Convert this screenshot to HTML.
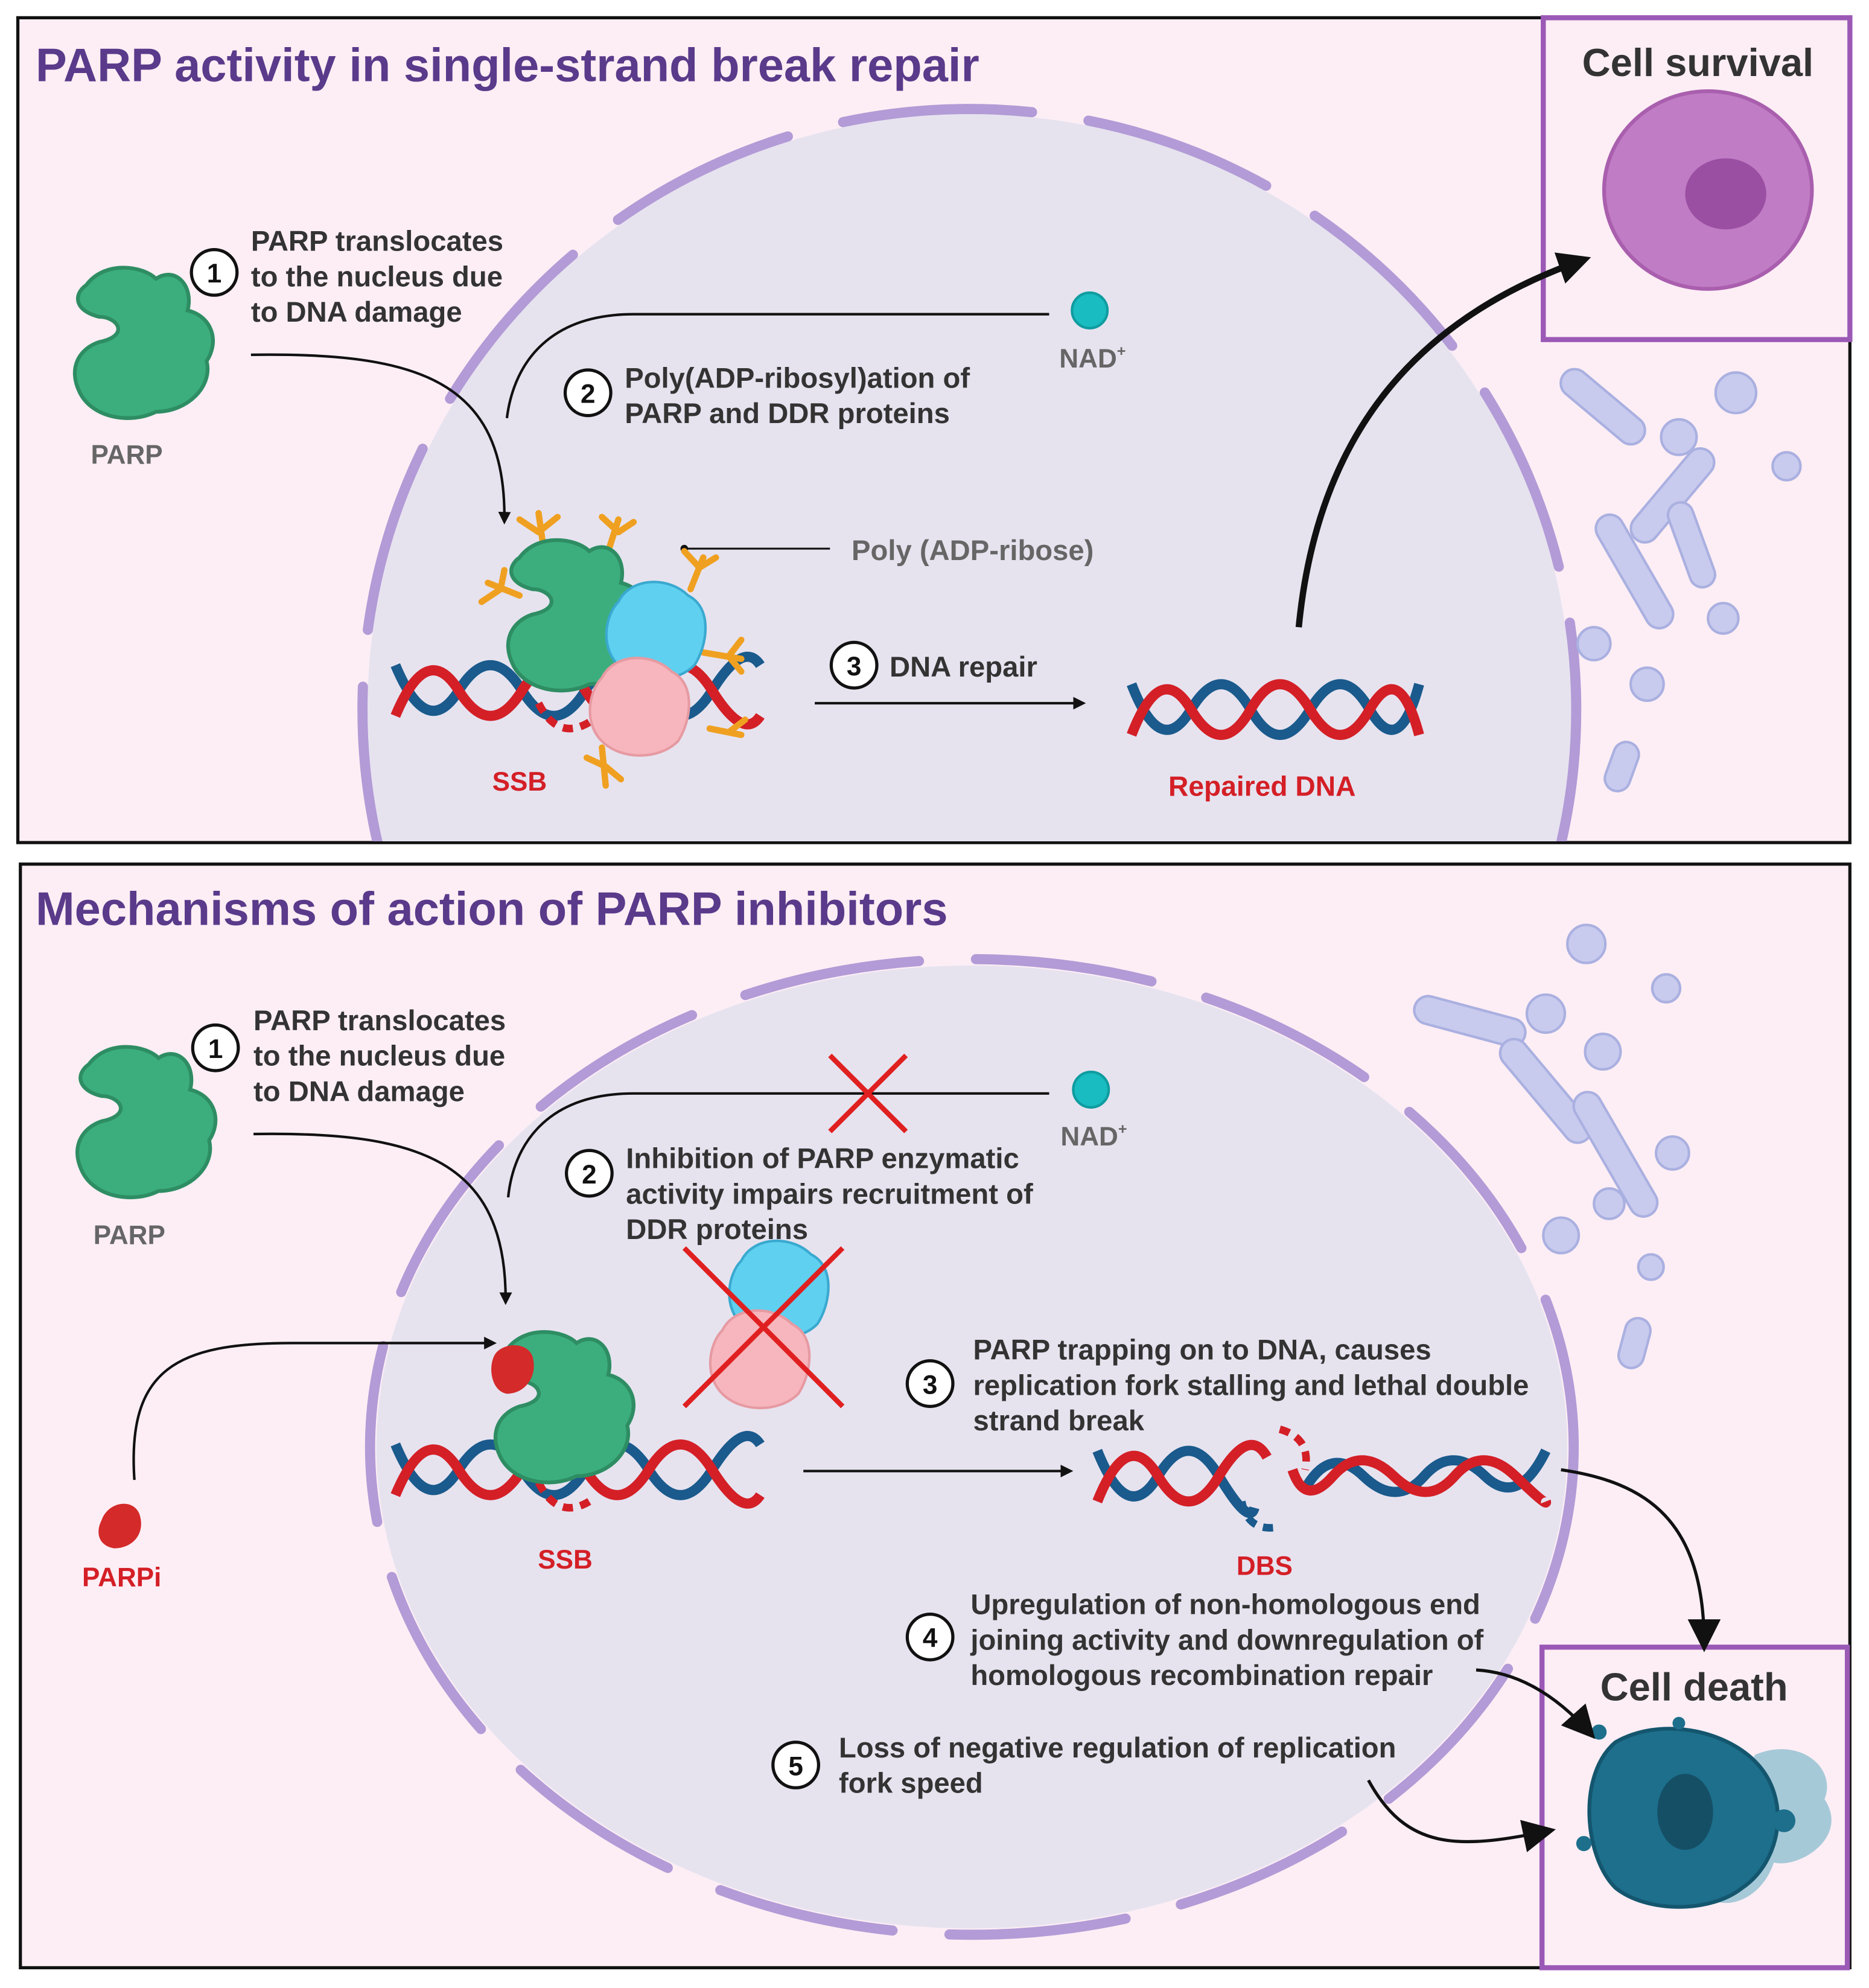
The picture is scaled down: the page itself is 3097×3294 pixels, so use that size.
<!DOCTYPE html>
<html><head><meta charset="utf-8"><style>
html,body{margin:0;padding:0;background:#fff}
svg{display:block}
text{font-family:"Liberation Sans",sans-serif;font-weight:bold}
</style></head><body>
<svg width="3097" height="3294" viewBox="0 0 1475 1569" xmlns="http://www.w3.org/2000/svg">
<defs>
<marker id="ah" markerWidth="10" markerHeight="10" refX="8" refY="5" orient="auto" markerUnits="userSpaceOnUse"><path d="M0,0 L10,5 L0,10 z" fill="#111"/></marker>
<marker id="ahb" markerWidth="26" markerHeight="26" refX="20" refY="13" orient="auto" markerUnits="userSpaceOnUse"><path d="M0,0 L26,13 L0,26 z" fill="#111"/></marker>
<clipPath id="c1"><rect x="15" y="15" width="1444" height="649"/></clipPath>
<clipPath id="c2"><rect x="17" y="683" width="1442" height="869"/></clipPath>
<g id="parp"><path d="M-45,-45 C-30,-65 0,-60 10,-50 C25,-60 40,-45 35,-25 C55,-20 60,0 50,15 C55,35 35,55 10,55 C-10,65 -40,60 -50,40 C-60,20 -50,5 -35,0 C-10,-5 -20,-20 -35,-20 C-55,-25 -55,-38 -45,-45 z" fill="#3cae7e" stroke="#2e8d63" stroke-width="3"/></g>
<g id="cyan"><path d="M-30,-25 C-20,-45 10,-45 25,-30 C45,-20 40,10 30,25 C15,40 -15,40 -30,25 C-45,10 -40,-15 -30,-25z" fill="#5fd0ef" stroke="#3aa9d0" stroke-width="2"/></g>
<g id="pink"><path d="M-30,-25 C-20,-45 10,-45 25,-30 C45,-20 40,10 30,25 C15,40 -15,40 -30,25 C-45,10 -40,-15 -30,-25z" fill="#f7b6bd" stroke="#e69aa2" stroke-width="2"/></g>
</defs>

<!-- TOP PANEL -->
<rect x="14" y="14" width="1446" height="651" fill="#fdeef5" stroke="#111" stroke-width="2.5"/>
<g clip-path="url(#c1)">
<ellipse cx="765" cy="560" rx="475" ry="470" fill="#e6e3ef"/>
<ellipse cx="765" cy="560" rx="479" ry="474" fill="none" stroke="#b29bd6" stroke-width="8" stroke-linecap="round" stroke-dasharray="150 45"/>
</g>
<text x="28" y="64" font-size="37" fill="#5a3a8a">PARP activity in single-strand break repair</text>
<rect x="1218" y="14" width="242" height="254" fill="#fdeef5" stroke="#9b59b6" stroke-width="4"/>
<text x="1340" y="60" font-size="31" fill="#333" text-anchor="middle">Cell survival</text>
<ellipse cx="1348" cy="150" rx="82" ry="78" fill="#c07cc4" stroke="#a95fae" stroke-width="3"/>
<ellipse cx="1362" cy="153" rx="32" ry="28" fill="#9a4fa3"/>
<g fill="#c8cbee" stroke="#aab0e0" stroke-width="2">
<rect x="1225" y="310" width="80" height="22" rx="11" transform="rotate(40 1265 321)"/>
<circle cx="1370" cy="310" r="16"/><circle cx="1410" cy="368" r="11"/><circle cx="1325" cy="345" r="14"/>
<rect x="1275" y="380" width="90" height="22" rx="11" transform="rotate(-50 1320 391)"/>
<rect x="1240" y="440" width="100" height="22" rx="11" transform="rotate(60 1290 451)"/>
<circle cx="1258" cy="508" r="13"/><circle cx="1360" cy="488" r="12"/><circle cx="1300" cy="540" r="13"/>
<rect x="1260" y="595" width="40" height="20" rx="10" transform="rotate(-70 1280 605)"/>
<rect x="1300" y="420" width="70" height="20" rx="10" transform="rotate(70 1335 430)"/>
</g>

<use href="#parp" x="113" y="270"/>
<text x="100" y="366" font-size="21" fill="#666" text-anchor="middle">PARP</text>
<circle cx="169" cy="215" r="18" fill="#fff" stroke="#111" stroke-width="2.5"/><text x="169" y="223" font-size="21" text-anchor="middle" fill="#111">1</text>
<text font-size="22.5" fill="#333"><tspan x="198" y="198">PARP translocates</tspan><tspan x="198" y="226">to the nucleus due</tspan><tspan x="198" y="254">to DNA damage</tspan></text>
<path d="M198,280 C330,278 400,300 398,412" fill="none" stroke="#111" stroke-width="2" marker-end="url(#ah)"/>
<path d="M828,248 L500,248 C430,248 405,290 400,330" fill="none" stroke="#111" stroke-width="2"/>
<circle cx="860" cy="245" r="14" fill="#19bcc0" stroke="#0f9ca0" stroke-width="2"/>
<text x="836" y="290" font-size="21" fill="#666">NAD<tspan font-size="12" dy="-9">+</tspan></text>
<circle cx="464" cy="310" r="18" fill="#fff" stroke="#111" stroke-width="2.5"/><text x="464" y="318" font-size="21" text-anchor="middle" fill="#111">2</text>
<text font-size="22.5" fill="#333"><tspan x="493" y="306">Poly(ADP-ribosyl)ation of</tspan><tspan x="493" y="334">PARP and DDR proteins</tspan></text>
<line x1="540" y1="433" x2="655" y2="433" stroke="#111" stroke-width="1.5"/><circle cx="540" cy="433" r="3" fill="#111"/>
<text x="672" y="442" font-size="22.5" fill="#666">Poly (ADP-ribose)</text>
<path d="M312,525 Q337,585 362,545 T412,545 T462,545 T512,545 T562,545 T600,525" fill="none" stroke="#1a5a8c" stroke-width="8"/>
<path d="M312,565 Q337,505 362,545 T412,545 T462,545 T512,545 T562,545 T600,565" fill="none" stroke="#d41f26" stroke-width="8"/>
<path d="M425,555 Q440,585 465,570" fill="none" stroke="#d41f26" stroke-width="6" stroke-dasharray="8 6"/>
<g stroke="#f0a020" stroke-width="5" stroke-linecap="round" fill="none">
<path d="M430,440 L425,405 M425,420 L410,410 M425,420 L440,408"/>
<path d="M480,435 L488,410 M488,420 L475,408 M488,420 L500,412"/>
<path d="M410,470 L385,460 M395,465 L380,475 M395,465 L398,450"/>
<path d="M545,465 L555,440 M552,448 L540,435 M552,448 L565,440"/>
<path d="M555,515 L585,520 M575,518 L585,505 M575,518 L585,530"/>
<path d="M560,575 L585,580 M575,578 L588,568"/>
<path d="M475,590 L478,620 M478,605 L463,598 M478,605 L490,615"/>
</g>
<use href="#parp" x="455" y="485"/>
<use href="#cyan" x="518" y="500"/>
<use href="#pink" x="505" y="560"/>
<text x="410" y="624" font-size="21" fill="#d41f26" text-anchor="middle">SSB</text>
<circle cx="674" cy="525" r="18" fill="#fff" stroke="#111" stroke-width="2.5"/><text x="674" y="533" font-size="21" text-anchor="middle" fill="#111">3</text>
<text x="702" y="534" font-size="22.5" fill="#333">DNA repair</text>
<line x1="643" y1="555" x2="855" y2="555" stroke="#111" stroke-width="2" marker-end="url(#ah)"/>
<path d="M893,540 Q916,600 940,560 T987,560 T1034,560 T1081,560 T1120,540" fill="none" stroke="#1a5a8c" stroke-width="8"/>
<path d="M893,580 Q916,520 940,560 T987,560 T1034,560 T1081,560 T1120,580" fill="none" stroke="#d41f26" stroke-width="8"/>
<text x="996" y="628" font-size="22" fill="#d41f26" text-anchor="middle">Repaired DNA</text>
<path d="M1025,495 C1040,340 1120,250 1250,205" fill="none" stroke="#111" stroke-width="5" marker-end="url(#ahb)"/>

<!-- BOTTOM PANEL -->
<rect x="16" y="682" width="1444" height="871" fill="#fdeef5" stroke="#111" stroke-width="2.5"/>
<g clip-path="url(#c2)">
<ellipse cx="767" cy="1142" rx="470" ry="380" fill="#e6e3ef"/>
<ellipse cx="767" cy="1142" rx="475" ry="385" fill="none" stroke="#b29bd6" stroke-width="8" stroke-linecap="round" stroke-dasharray="140 45"/>
</g>
<text x="28" y="730" font-size="37" fill="#5a3a8a">Mechanisms of action of PARP inhibitors</text>
<g fill="#c8cbee" stroke="#aab0e0" stroke-width="2">
<circle cx="1252" cy="745" r="15"/><circle cx="1315" cy="780" r="11"/>
<rect x="1115" y="795" width="90" height="22" rx="11" transform="rotate(15 1160 806)"/>
<circle cx="1220" cy="800" r="15"/><circle cx="1265" cy="830" r="14"/>
<rect x="1170" y="850" width="100" height="22" rx="11" transform="rotate(50 1220 861)"/>
<rect x="1220" y="900" width="110" height="22" rx="11" transform="rotate(60 1275 911)"/>
<circle cx="1320" cy="910" r="13"/><circle cx="1232" cy="975" r="14"/><circle cx="1270" cy="950" r="12"/><circle cx="1303" cy="1000" r="10"/>
<rect x="1270" y="1050" width="40" height="20" rx="10" transform="rotate(-75 1290 1060)"/>
</g>
<use href="#parp" x="115" y="885"/>
<text x="102" y="982" font-size="21" fill="#666" text-anchor="middle">PARP</text>
<circle cx="170" cy="827" r="18" fill="#fff" stroke="#111" stroke-width="2.5"/><text x="170" y="835" font-size="21" text-anchor="middle" fill="#111">1</text>
<text font-size="22.5" fill="#333"><tspan x="200" y="813">PARP translocates</tspan><tspan x="200" y="841">to the nucleus due</tspan><tspan x="200" y="869">to DNA damage</tspan></text>
<path d="M200,895 C330,893 400,915 399,1028" fill="none" stroke="#111" stroke-width="2" marker-end="url(#ah)"/>
<path d="M828,863 L500,863 C430,863 405,905 401,945" fill="none" stroke="#111" stroke-width="2"/>
<path d="M655,833 L715,893 M715,833 L655,893" stroke="#e02020" stroke-width="4"/>
<circle cx="861" cy="860" r="14" fill="#19bcc0" stroke="#0f9ca0" stroke-width="2"/>
<text x="837" y="904" font-size="21" fill="#666">NAD<tspan font-size="12" dy="-9">+</tspan></text>
<circle cx="465" cy="926" r="18" fill="#fff" stroke="#111" stroke-width="2.5"/><text x="465" y="934" font-size="21" text-anchor="middle" fill="#111">2</text>
<text font-size="22.5" fill="#333"><tspan x="494" y="922">Inhibition of PARP enzymatic</tspan><tspan x="494" y="950">activity impairs recruitment of</tspan><tspan x="494" y="978">DDR proteins</tspan></text>
<use href="#cyan" x="615" y="1020"/>
<use href="#pink" x="600" y="1075"/>
<path d="M540,985 L665,1110 M665,985 L540,1110" stroke="#e02020" stroke-width="4"/>
<path d="M312,1140 Q337,1200 362,1160 T412,1160 T462,1160 T512,1160 T562,1160 T600,1140" fill="none" stroke="#1a5a8c" stroke-width="8"/>
<path d="M312,1180 Q337,1120 362,1160 T412,1160 T462,1160 T512,1160 T562,1160 T600,1180" fill="none" stroke="#d41f26" stroke-width="8"/>
<path d="M425,1170 Q440,1200 465,1185" fill="none" stroke="#d41f26" stroke-width="6" stroke-dasharray="8 6"/>
<use href="#parp" x="445" y="1110"/>
<path d="M390,1070 C395,1060 415,1058 420,1070 C425,1085 415,1100 400,1100 C388,1098 385,1080 390,1070z" fill="#d42a2a"/>
<text x="446" y="1238" font-size="21" fill="#d41f26" text-anchor="middle">SSB</text>
<path d="M106,1168 C100,1080 140,1060 230,1060 L390,1060" fill="none" stroke="#111" stroke-width="2" marker-end="url(#ah)"/>
<path d="M80,1200 C85,1185 105,1182 110,1195 C115,1210 105,1222 90,1222 C78,1220 75,1210 80,1200z" fill="#d42a2a"/>
<text x="96" y="1252" font-size="21" fill="#d41f26" text-anchor="middle">PARPi</text>
<circle cx="734" cy="1092" r="18" fill="#fff" stroke="#111" stroke-width="2.5"/><text x="734" y="1100" font-size="21" text-anchor="middle" fill="#111">3</text>
<text font-size="22.5" fill="#333"><tspan x="768" y="1073">PARP trapping on to DNA, causes</tspan><tspan x="768" y="1101">replication fork stalling and lethal double</tspan><tspan x="768" y="1129">strand break</tspan></text>
<line x1="634" y1="1161" x2="845" y2="1161" stroke="#111" stroke-width="2" marker-end="url(#ah)"/>
<path d="M866,1145 Q890,1205 914,1165 T962,1165 T990,1190 M1030,1175 Q1050,1140 1076,1165 T1124,1165 T1172,1165 T1220,1145" fill="none" stroke="#1a5a8c" stroke-width="8"/>
<path d="M866,1185 Q890,1125 914,1165 T962,1165 T1000,1150 M1020,1160 Q1030,1190 1052,1165 T1100,1165 T1148,1165 T1196,1165 T1220,1185" fill="none" stroke="#d41f26" stroke-width="8"/>
<path d="M1010,1128 Q1035,1135 1030,1160" fill="none" stroke="#d41f26" stroke-width="6" stroke-dasharray="8 6"/>
<path d="M980,1185 Q985,1210 1010,1205" fill="none" stroke="#1a5a8c" stroke-width="6" stroke-dasharray="8 6"/>
<text x="998" y="1243" font-size="21" fill="#d41f26" text-anchor="middle">DBS</text>
<circle cx="734" cy="1292" r="18" fill="#fff" stroke="#111" stroke-width="2.5"/><text x="734" y="1300" font-size="21" text-anchor="middle" fill="#111">4</text>
<text font-size="22.5" fill="#333"><tspan x="766" y="1274">Upregulation of non-homologous end</tspan><tspan x="766" y="1302">joining activity and downregulation of</tspan><tspan x="766" y="1330">homologous recombination repair</tspan></text>
<circle cx="628" cy="1393" r="18" fill="#fff" stroke="#111" stroke-width="2.5"/><text x="628" y="1401" font-size="21" text-anchor="middle" fill="#111">5</text>
<text font-size="22.5" fill="#333"><tspan x="662" y="1387">Loss of negative regulation of replication</tspan><tspan x="662" y="1415">fork speed</tspan></text>
<rect x="1217" y="1300" width="241" height="253" fill="#fdeef5" stroke="#9b59b6" stroke-width="4"/>
<text x="1337" y="1342" font-size="31" fill="#333" text-anchor="middle">Cell death</text>
<path d="M1385,1385 C1420,1370 1450,1395 1440,1420 C1460,1450 1420,1475 1400,1470 C1390,1500 1360,1510 1345,1495 Z" fill="#a6c9d8"/>
<path d="M1275,1375 C1310,1355 1360,1365 1385,1390 C1415,1420 1405,1470 1375,1490 C1350,1510 1300,1510 1275,1490 C1250,1465 1245,1400 1275,1375z" fill="#1d6f8c" stroke="#14566e" stroke-width="3"/>
<ellipse cx="1330" cy="1430" rx="22" ry="30" fill="#154f66"/>
<circle cx="1262" cy="1367" r="6" fill="#1d6f8c"/><circle cx="1408" cy="1437" r="9" fill="#1d6f8c"/><circle cx="1250" cy="1455" r="6" fill="#1d6f8c"/><circle cx="1325" cy="1360" r="5" fill="#1d6f8c"/>
<path d="M1232,1160 C1300,1170 1345,1200 1345,1298" fill="none" stroke="#111" stroke-width="2.5" marker-end="url(#ahb)"/>
<path d="M1165,1318 C1200,1320 1230,1340 1255,1368" fill="none" stroke="#111" stroke-width="2.5" marker-end="url(#ahb)"/>
<path d="M1080,1405 C1110,1460 1150,1460 1222,1445" fill="none" stroke="#111" stroke-width="2.5" marker-end="url(#ahb)"/>
</svg>
</body></html>
